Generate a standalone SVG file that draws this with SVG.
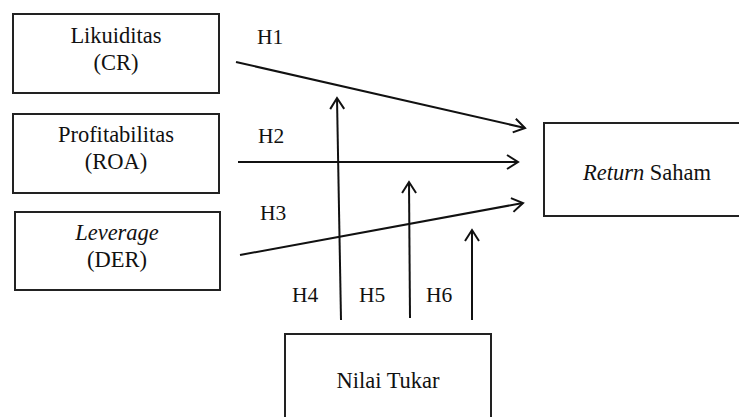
<svg xmlns="http://www.w3.org/2000/svg" width="739" height="417" viewBox="0 0 739 417">
<style>
.box{fill:#fff;stroke:#222;stroke-width:2}
.c{fill:none;stroke:#111;stroke-width:2}
.t{font-family:"Liberation Serif","Times New Roman",serif;font-size:22.5px;fill:#111;text-anchor:middle}
.h{font-family:"Liberation Serif","Times New Roman",serif;font-size:21.5px;fill:#111}
</style>
<defs>
<marker id="arr" markerUnits="userSpaceOnUse" markerWidth="16" markerHeight="20" refX="13" refY="9" orient="auto" viewBox="0 0 16 20">
<path d="M2,2 L13,9 L2,16" fill="none" stroke="#111" stroke-width="2"/>
</marker>
</defs>
<rect width="739" height="417" fill="#fff"/>
<g id="node-likuiditas">
<rect class="box" x="13" y="14" width="206" height="79"/>
<text class="t" x="116" y="43">Likuiditas</text>
<text class="t" x="116" y="70">(CR)</text>
</g>
<g id="node-profitabilitas">
<rect class="box" x="13" y="114" width="206" height="79"/>
<text class="t" x="116" y="142">Profitabilitas</text>
<text class="t" x="116" y="169">(ROA)</text>
</g>
<g id="node-leverage">
<rect class="box" x="15" y="212" width="205" height="78"/>
<text class="t" x="117" y="240" font-style="italic">Leverage</text>
<text class="t" x="117" y="267">(DER)</text>
</g>
<g id="node-return">
<rect class="box" x="544" y="123" width="210" height="93"/>
<text class="t" x="647" y="180"><tspan font-style="italic">Return</tspan> Saham</text>
</g>
<g id="node-nilai">
<rect class="box" x="285" y="334" width="206" height="100"/>
<text class="t" x="388" y="388">Nilai Tukar</text>
</g>
<g id="connectors">
<line class="c" x1="236" y1="62" x2="525" y2="128" marker-end="url(#arr)"/>
<line class="c" x1="238" y1="162" x2="518" y2="162" marker-end="url(#arr)"/>
<line class="c" x1="240" y1="255" x2="523" y2="203" marker-end="url(#arr)"/>
<line class="c" x1="341" y1="320" x2="337" y2="98" marker-end="url(#arr)"/>
<line class="c" x1="410" y1="318" x2="409" y2="182" marker-end="url(#arr)"/>
<line class="c" x1="472" y1="320" x2="472" y2="230" marker-end="url(#arr)"/>
<text class="h" x="257" y="44">H1</text>
<text class="h" x="258" y="143">H2</text>
<text class="h" x="260" y="220">H3</text>
<text class="h" x="292" y="302">H4</text>
<text class="h" x="359" y="302">H5</text>
<text class="h" x="426" y="302">H6</text>
</g>
</svg>
